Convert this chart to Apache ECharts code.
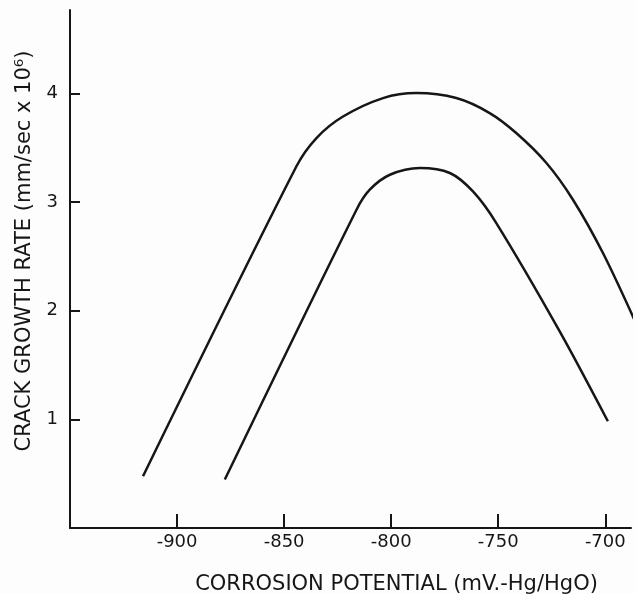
<!DOCTYPE html>
<html>
<head>
<meta charset="utf-8">
<script src="https://cdn.jsdelivr.net/npm/echarts@6/dist/echarts.min.js"></script>
<style>
  html, body { margin: 0; padding: 0; background: #fdfdfd; }
  #chart { width: 636px; height: 594px; }
</style>
</head>
<body>
<div id="chart"></div>
<script>
// Corrosion potential (mV, Hg/HgO) vs crack growth rate (mm/sec x 10^6)
const upperPotential = [-915.9, -844.3, -834.9, -822.5, -803.8, -788.2, -769.6, -754.0, -741.6, -727.5, -715.1, -701.1, -685.8];
const upperRate      = [0.477, 3.329, 3.591, 3.789, 3.959, 4.005, 3.959, 3.821, 3.637, 3.361, 3.023, 2.532, 1.891];

const lowerPotential = [-877.7, -816.2, -810.0, -800.6, -786.6, -772.6, -761.8, -750.9, -721.3, -698.8];
const lowerRate      = [0.446, 2.931, 3.115, 3.253, 3.315, 3.269, 3.099, 2.808, 1.811, 0.983];

const xTicks = [-900, -850, -800, -750, -700];
const yTicks = [1, 2, 3, 4];

const pair = (xs, ys) => xs.map((x, i) => [x, ys[i]]);
const ink = '#161616';
const font = '"DejaVu Sans", "Liberation Sans", Arial, sans-serif';

const chart = echarts.init(document.getElementById('chart'), null, { renderer: 'canvas' });
chart.setOption({
  backgroundColor: '#fdfdfd',
  animation: false,
  grid: {
    left: 70, top: 10, width: 561, bottom: 66,
    containLabel: false, outerBoundsMode: 'none'
  },
  xAxis: {
    type: 'value',
    min: -950,
    max: -688,
    name: 'CORROSION POTENTIAL (mV.-Hg/HgO)',
    nameLocation: 'middle',
    nameGap: 46,
    nameTextStyle: { color: ink, fontFamily: font, fontSize: 21, padding: [0, 0, 0, 92] },
    axisLine: { lineStyle: { color: ink, width: 2 } },
    axisTick: {
      inside: true, length: 14, lineStyle: { color: ink, width: 2 },
      customValues: xTicks
    },
    axisLabel: {
      color: ink, fontFamily: font, fontSize: 18, margin: 5,
      customValues: xTicks
    },
    splitLine: { show: false }
  },
  yAxis: {
    type: 'value',
    min: 0,
    max: 4.77,
    name: 'CRACK GROWTH RATE (mm/sec x 10\u2076)',
    nameLocation: 'middle',
    nameRotate: 90,
    nameGap: 35,
    nameTextStyle: { color: ink, fontFamily: font, fontSize: 21, padding: [0, 0, 0, 36] },
    axisLine: { lineStyle: { color: ink, width: 2 } },
    axisTick: {
      inside: true, length: 10, lineStyle: { color: ink, width: 2 },
      customValues: yTicks
    },
    axisLabel: {
      color: ink, fontFamily: font, fontSize: 18, margin: 12,
      customValues: yTicks
    },
    splitLine: { show: false }
  },
  series: [
    {
      type: 'line',
      data: pair(upperPotential, upperRate),
      smooth: 0.3,
      symbol: 'none',
      clip: false,
      lineStyle: { color: ink, width: 2.5 }
    },
    {
      type: 'line',
      data: pair(lowerPotential, lowerRate),
      smooth: 0.3,
      symbol: 'none',
      clip: false,
      lineStyle: { color: ink, width: 2.5 }
    }
  ]
});
</script>
</body>
</html>
